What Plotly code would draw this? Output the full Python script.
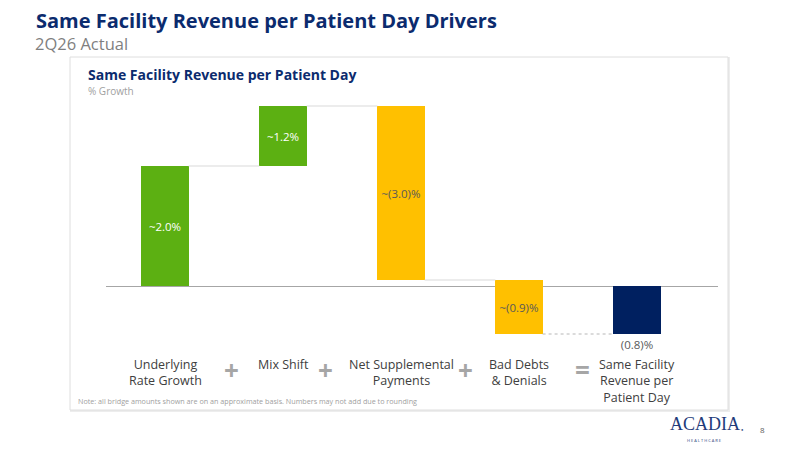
import plotly.graph_objects as go

# bridge data (% growth)
categories = ["Underlying<br>Rate Growth", "Mix Shift", "Net Supplemental<br>Payments",
              "Bad Debts<br>& Denials", "Same Facility<br>Revenue per<br>Patient Day"]
steps = [2.0, 1.0, -2.9, -0.9]     # bar heights as drawn
total = -0.8
labels = ["~2.0%", "~1.2%", "~(3.0)%", "~(0.9)%", "(0.8)%"]
operators = ["+", "+", "+", "="]

GREEN = "#5cb012"
YELLOW = "#ffc000"
NAVY = "#002060"
TITLE = "#0b2b6e"
GRAY = "#595959"
FONT = "Open Sans"

# the page body adds an 8px margin, so the figure is drawn 8px smaller
OFF = 8
W, H = 800 - OFF, 450 - OFF
TOP, BOT, LEFT, RIGHT = 95, 340, 106, 718      # plot area in screen pixels
L, T = LEFT - OFF, TOP - OFF
R, B = 800 - RIGHT, 450 - BOT
PW, PH = W - L - R, H - T - B
UNIT = 60                                    # pixels per 1% growth
ZERO = 286                                   # baseline in screen pixels


def px(x):
    return (x - LEFT) / PW


def py(y):
    return (BOT - y) / PH


def note(x, y, text, size, color, family=FONT, anchor="left"):
    return dict(x=px(x), y=py(y), xref="paper", yref="paper", xanchor=anchor,
                yanchor="middle", showarrow=False, text=text,
                font=dict(family=family, size=size, color=color))


# build bases from the steps
bases, heights, colors = [], [], []
level = 0.0
for s in steps:
    bases.append(level)
    heights.append(s)
    colors.append(GREEN if s > 0 else YELLOW)
    level += s
bases.append(0.0)
heights.append(total)
colors.append(NAVY)
levels = [b + h for b, h in zip(bases, heights)]

xs = list(range(len(categories)))
fig = go.Figure()
fig.add_trace(go.Bar(
    x=xs, y=heights, base=bases, width=0.4,
    marker=dict(color=colors, line=dict(width=0)),
    text=labels,
    textposition=["inside", "inside", "inside", "inside", "outside"],
    insidetextanchor="middle", textangle=0, constraintext="none",
    textfont=dict(family=FONT, size=11.5,
                  color=["white", "white", GRAY, GRAY, GRAY]),
    cliponaxis=False, hoverinfo="skip",
))

# connectors
for i in range(len(steps)):
    last = i == len(steps) - 1
    fig.add_trace(go.Scatter(
        x=[i + 0.2, i + 0.8], y=[levels[i], levels[i]], mode="lines",
        line=dict(color="#b8b8b8" if last else "#d9d9d9", width=1.2 if last else 1,
                  dash="dot" if last else "solid"),
        hoverinfo="skip", showlegend=False,
    ))

annotations = []
for i, c in enumerate(categories):
    annotations.append(dict(x=i, y=py(354), xref="x", yref="paper", text=c,
                            showarrow=False, yanchor="top", xanchor="center", align="center",
                            font=dict(family=FONT, size=12.5, color="#404040")))
op_x = [0.56, 1.36, 2.55, 3.54]
for ox, op in zip(op_x, operators):
    annotations.append(dict(x=ox, y=py(370), xref="x", yref="paper", text="<b>%s</b>" % op,
                            showarrow=False, xanchor="center", yanchor="middle",
                            font=dict(family=FONT, size=26, color="#a6a6a6")))

annotations += [
    note(34, 21, "<b>Same Facility Revenue per Patient Day Drivers</b>", 20, TITLE),
    note(33, 44, "2Q26 Actual", 16.5, "#7f7f7f"),
    note(86, 74, "<b>Same Facility Revenue per Patient Day</b>", 14, TITLE),
    note(86, 91, "% Growth", 10, "#a0a0a0"),
    note(76, 401, "Note: all bridge amounts shown are on an approximate basis. "
         "Numbers may not add due to rounding", 7.2, "#a0a0a0"),
    note(705, 424, "ACADIA", 18, "#1f3c7a", "Liberation Serif", "center"),
    note(742, 429, "●", 4, "#1f3c7a", anchor="center"),
    note(704, 440, "H E A L T H C A R E", 4, "#1f3c7a", anchor="center"),
    note(762, 429, "8", 8, GRAY, anchor="center"),
]

shapes = [
    dict(type="rect", xref="paper", yref="paper", x0=px(71), x1=px(729), y0=py(58), y1=py(411),
         line=dict(color="#ededed", width=2), fillcolor="rgba(0,0,0,0)", layer="below"),
    dict(type="rect", xref="paper", yref="paper", x0=px(70), x1=px(728), y0=py(57), y1=py(410),
         line=dict(color="#dedede", width=1), fillcolor="white", layer="below"),
]

fig.update_layout(
    width=W, height=H, margin=dict(l=L, r=R, t=T, b=B),
    paper_bgcolor="white", plot_bgcolor="rgba(0,0,0,0)",
    font=dict(family=FONT, color=GRAY),
    showlegend=False, bargap=0,
    xaxis=dict(range=[-0.5, -0.5 + PW / 118], showticklabels=False, showgrid=False,
               zeroline=False, fixedrange=True),
    yaxis=dict(range=[-(BOT - ZERO) / UNIT, (ZERO - TOP) / UNIT], showticklabels=False,
               showgrid=False, zeroline=True, zerolinecolor="#a6a6a6", zerolinewidth=1,
               fixedrange=True),
    annotations=annotations, shapes=shapes,
)

fig.write_html("out.html")
